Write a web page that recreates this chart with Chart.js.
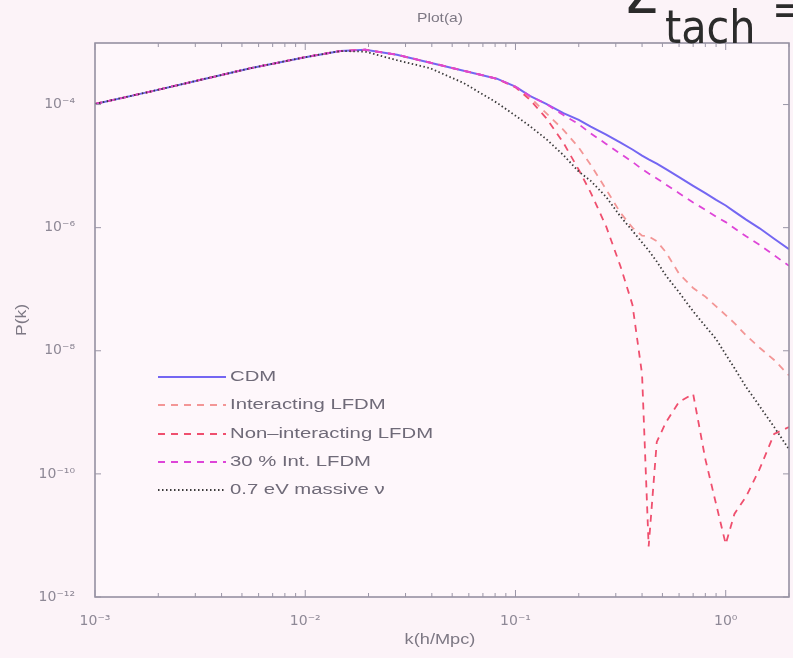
<!DOCTYPE html>
<html>
<head>
<meta charset="utf-8">
<script src="https://cdn.jsdelivr.net/npm/chart.js@4/dist/chart.umd.min.js"></script>
<style>
  html, body { margin: 0; padding: 0; background: #fcf3f8; }
  #wrap { position: relative; width: 793px; height: 658px; overflow: hidden; }
  #c { position: absolute; left: 0; top: 0; }
  .zt { position: absolute; font-family: "DejaVu Sans Condensed", "DejaVu Sans", sans-serif; color: #2b2b2b; white-space: nowrap; line-height: 1; }
</style>
</head>
<body>
<div id="wrap">
  <canvas id="c" width="793" height="658"></canvas>
  <div class="zt" style="left:626px;top:-44px;font-size:68px;">z</div>
  <div class="zt" style="left:665px;top:4px;font-size:46px;">tach</div>
  <div class="zt" style="left:772px;top:-12px;font-size:44px;">=</div>
</div>
<script>
// k in h/Mpc, P(k) stored as log10 values
var kVals = [0.001, 0.00183, 0.00316, 0.00548, 0.01, 0.0147, 0.0193, 0.0273, 0.0393, 0.0567,
  0.0815, 0.1, 0.117, 0.14, 0.169, 0.2, 0.228, 0.27, 0.316, 0.36,
  0.4, 0.43, 0.47, 0.52, 0.6, 0.7, 0.8, 0.9, 1.0, 1.1,
  1.25, 1.45, 1.7, 2.0];

var cdmLog = [-3.99, -3.79, -3.60, -3.41, -3.23, -3.13, -3.11, -3.19, -3.32, -3.45,
  -3.58, -3.71, -3.86, -3.99, -4.14, -4.25, -4.36, -4.49, -4.62, -4.73,
  -4.83, -4.89, -4.96, -5.05, -5.18, -5.32, -5.44, -5.55, -5.64, -5.74,
  -5.87, -6.01, -6.18, -6.35];

var intLfdmLog = [-3.99, -3.79, -3.60, -3.41, -3.23, -3.13, -3.11, -3.19, -3.32, -3.45,
  -3.58, -3.71, -3.88, -4.14, -4.41, -4.70, -4.98, -5.38, -5.76, -6.00,
  -6.13, -6.14, -6.22, -6.40, -6.75, -6.98, -7.12, -7.28, -7.42, -7.55,
  -7.75, -7.95, -8.15, -8.40];

var nonIntLfdmLog = [-3.99, -3.79, -3.60, -3.41, -3.23, -3.13, -3.11, -3.19, -3.32, -3.45,
  -3.58, -3.72, -3.92, -4.22, -4.62, -5.06, -5.43, -5.98, -6.63, -7.25,
  -8.38, -11.18, -9.48, -9.16, -8.83, -8.70, -9.76, -10.49, -11.14, -10.65,
  -10.37, -9.92, -9.35, -9.24];

var int30Log = [-3.99, -3.79, -3.60, -3.41, -3.23, -3.13, -3.11, -3.19, -3.32, -3.45,
  -3.58, -3.71, -3.86, -3.99, -4.17, -4.32, -4.47, -4.64, -4.80, -4.93,
  -5.05, -5.12, -5.20, -5.30, -5.44, -5.59, -5.71, -5.82, -5.91, -6.01,
  -6.14, -6.28, -6.45, -6.62];

var nuLog = [-3.99, -3.79, -3.60, -3.41, -3.23, -3.13, -3.14, -3.28, -3.41, -3.65,
  -3.97, -4.18, -4.35, -4.56, -4.82, -5.09, -5.24, -5.50, -5.82, -6.05,
  -6.24, -6.37, -6.55, -6.78, -7.05, -7.36, -7.60, -7.81, -8.06, -8.28,
  -8.59, -8.90, -9.24, -9.60];

var seriesNames = ['CDM', 'Interacting LFDM', 'Non\u2013interacting LFDM', '30 % Int. LFDM', '0.7 eV massive \u03bd'];

var xTickVals = [1e-3, 1e-2, 1e-1, 1];
var xTickLabels = ['10\u207b\u00b3', '10\u207b\u00b2', '10\u207b\u00b9', '10\u2070'];
var yTickVals = [1e-12, 1e-10, 1e-8, 1e-6, 1e-4];
var yTickLabels = ['10\u207b\u00b9\u00b2', '10\u207b\u00b9\u2070', '10\u207b\u2078', '10\u207b\u2076', '10\u207b\u2074'];

function toPoints(logs) {
  return kVals.map(function(k, i) {
    return { x: k, y: Math.pow(10, logs[i]) };
  });
}

var styles = [
  { color: '#7466f2', dash: [], width: 2 },
  { color: '#f39696', dash: [7, 6], width: 1.8 },
  { color: '#ef4f6e', dash: [7, 6], width: 1.8 },
  { color: '#de45d8', dash: [7, 6], width: 1.8 },
  { color: '#3a3a3a', dash: [1.5, 2.5], width: 1.8 }
];
var logs = [cdmLog, intLfdmLog, nonIntLfdmLog, int30Log, nuLog];

var datasets = logs.map(function(l, i) {
  return {
    label: seriesNames[i],
    data: toPoints(l),
    borderColor: styles[i].color,
    borderDash: styles[i].dash,
    borderWidth: styles[i].width,
    pointRadius: 0,
    tension: 0,
    fill: false,
    order: 5 - i
  };
});

// stretched text, the source slide is wider than it is tall
function wideText(ctx, txt, x, y, sx) {
  ctx.save();
  ctx.translate(x, y);
  ctx.scale(sx, 1);
  ctx.fillText(txt, 0, 0);
  ctx.restore();
}

var decor = {
  id: 'decor',
  beforeDraw: function(chart) {
    var ctx = chart.ctx;
    ctx.save();
    ctx.fillStyle = '#fcf3f8';
    ctx.fillRect(0, 0, chart.width, chart.height);
    var a = chart.chartArea;
    ctx.fillStyle = '#fef7fb';
    ctx.fillRect(a.left, a.top, a.right - a.left, a.bottom - a.top);
    ctx.restore();
  },
  afterDraw: function(chart) {
    var ctx = chart.ctx, a = chart.chartArea;
    var xs = chart.scales.x, ys = chart.scales.y;
    ctx.save();
    // frame
    ctx.strokeStyle = '#8f8a9c';
    ctx.lineWidth = 1.5;
    ctx.strokeRect(a.left, a.top, a.right - a.left, a.bottom - a.top);
    // x ticks, major and minor
    ctx.lineWidth = 1;
    ctx.strokeStyle = '#9a95a6';
    for (var d = -3; d <= 0; d++) {
      for (var m = 1; m <= 9; m++) {
        var v = m * Math.pow(10, d);
        if (v > xs.max) break;
        var px = xs.getPixelForValue(v);
        var len = m === 1 ? 7 : 4;
        ctx.beginPath();
        ctx.moveTo(px, a.bottom); ctx.lineTo(px, a.bottom - len);
        ctx.moveTo(px, a.top); ctx.lineTo(px, a.top + len);
        ctx.stroke();
      }
    }
    yTickVals.forEach(function(v) {
      var py = ys.getPixelForValue(v);
      ctx.beginPath();
      ctx.moveTo(a.left, py); ctx.lineTo(a.left + 6, py);
      ctx.moveTo(a.right, py); ctx.lineTo(a.right - 6, py);
      ctx.stroke();
    });
    // titles
    var cx = (a.left + a.right) / 2 - 2;
    ctx.fillStyle = '#7d7884';
    ctx.textAlign = 'center';
    ctx.textBaseline = 'middle';
    ctx.font = '13px "Liberation Sans", Arial, sans-serif';
    wideText(ctx, 'Plot(a)', cx, 18, 1.2);
    ctx.font = '14px "Liberation Sans", Arial, sans-serif';
    wideText(ctx, 'k(h/Mpc)', cx, 640, 1.3);
    ctx.save();
    ctx.translate(22, 320);
    ctx.rotate(-Math.PI / 2);
    ctx.font = '14px "Liberation Sans", Arial, sans-serif';
    wideText(ctx, 'P(k)', 0, 0, 1.25);
    ctx.restore();
    // legend
    var rowY = [377, 405, 434, 462, 490];
    chart.data.datasets.forEach(function(ds, i) {
      var y = rowY[i];
      ctx.save();
      ctx.strokeStyle = ds.borderColor;
      ctx.lineWidth = ds.borderWidth;
      ctx.setLineDash(ds.borderDash);
      ctx.beginPath();
      ctx.moveTo(158, y); ctx.lineTo(226, y);
      ctx.stroke();
      ctx.restore();
      ctx.fillStyle = '#6f6a78';
      ctx.font = '14px "Liberation Sans", Arial, sans-serif';
      ctx.textAlign = 'left';
      ctx.textBaseline = 'middle';
      wideText(ctx, ds.label, 230, y, 1.45);
    });
    ctx.restore();
  }
};

new Chart(document.getElementById('c'), {
  type: 'line',
  data: { datasets: datasets },
  options: {
    responsive: false,
    animation: false,
    layout: { padding: { top: 43, right: 4, left: 0, bottom: 0 } },
    plugins: { legend: { display: false }, tooltip: { enabled: false } },
    scales: {
      x: {
        type: 'logarithmic',
        min: 1e-3,
        max: 2,
        afterBuildTicks: function(s) { s.ticks = xTickVals.map(function(v) { return { value: v }; }); },
        afterFit: function(s) { s.height = 61; },
        grid: { display: false },
        border: { display: false },
        ticks: {
          autoSkip: false, maxRotation: 0, padding: 8,
          color: '#8e8896',
          font: { size: 14, family: '"DejaVu Sans", sans-serif' },
          callback: function(v) { var i = xTickVals.indexOf(v); return i < 0 ? '' : xTickLabels[i]; }
        }
      },
      y: {
        type: 'logarithmic',
        min: 1e-12,
        max: 1e-3,
        afterBuildTicks: function(s) { s.ticks = yTickVals.map(function(v) { return { value: v }; }); },
        afterFit: function(s) { s.width = 95; },
        grid: { display: false },
        border: { display: false },
        ticks: {
          autoSkip: false, padding: 12,
          color: '#8e8896',
          font: { size: 14, family: '"DejaVu Sans", sans-serif' },
          callback: function(v) { var i = yTickVals.indexOf(v); return i < 0 ? '' : yTickLabels[i]; }
        }
      }
    }
  },
  plugins: [decor]
});
</script>
</body>
</html>
